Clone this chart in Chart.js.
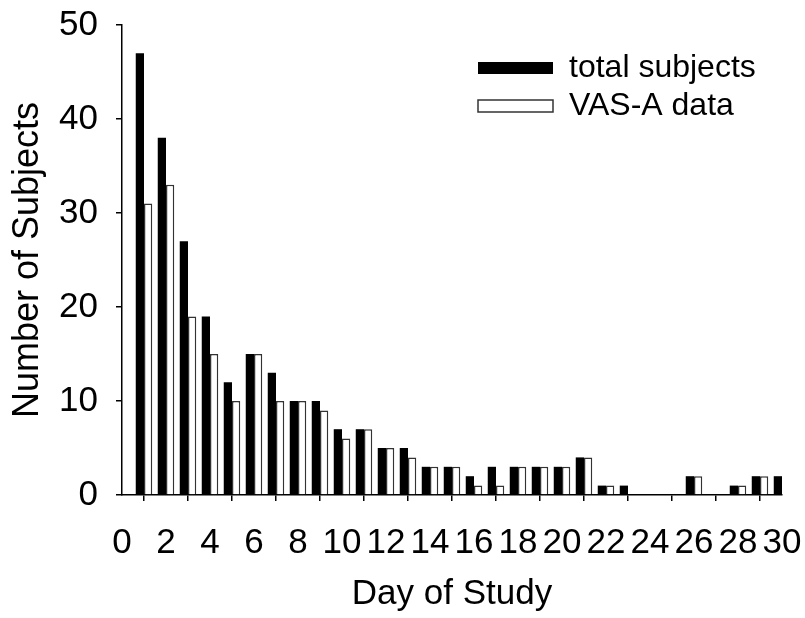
<!DOCTYPE html>
<html lang="en">
<head>
  <meta charset="UTF-8" />
  <title>Number of Subjects by Day of Study</title>
  <script src="https://cdn.jsdelivr.net/npm/chart.js"></script>
  <style>
    html, body { margin: 0; padding: 0; background: #fff; }
    #wrap { width: 805px; height: 618px; }
  </style>
</head>
<body>
  <div id="wrap">
    <canvas id="dayChart" width="805" height="618"></canvas>
  </div>

  <script>
    // day of study (x) and counts per day
    const days = [1, 2, 3, 4, 5, 6, 7, 8, 9, 10, 11, 12, 13, 14, 15, 16, 17, 18, 19, 20, 21, 22, 23, 24, 25, 26, 27, 28, 29, 30];
    const totalSubjects = [47, 38, 27, 19, 12, 15, 13, 10, 10, 7, 7, 5, 5, 3, 3, 2, 3, 3, 3, 3, 4, 1, 1, 0, 0, 2, 0, 1, 2, 2];
    const vasAData = [31, 33, 19, 15, 10, 15, 10, 10, 9, 6, 7, 5, 4, 3, 3, 1, 1, 3, 3, 3, 4, 1, 0, 0, 0, 2, 0, 1, 2, 0];
    const seriesNames = ['total subjects', 'VAS-A data'];

    const fontFamily = "'Liberation Sans', Arial, Helvetica, sans-serif";

    // put the legend inside the plot, top right
    const legendSpot = {
      id: 'legendSpot',
      afterLayout(chart) {
        const lg = chart.legend;
        if (!lg) return;
        const w = lg.width;
        lg.left = 472;
        lg.right = lg.left + w;
        lg.top = 46;
        lg.bottom = lg.top + 100;
      }
    };

    const ctx = document.getElementById('dayChart').getContext('2d');
    new Chart(ctx, {
      type: 'bar',
      data: {
        datasets: [
          {
            label: seriesNames[0],
            data: days.map((d, i) => ({ x: d, y: totalSubjects[i] })),
            backgroundColor: '#000',
            borderColor: '#000',
            borderWidth: 0,
            clip: 0
          },
          {
            label: seriesNames[1],
            data: days.map((d, i) => ({ x: d, y: vasAData[i] })),
            backgroundColor: '#fff',
            borderColor: '#333',
            borderWidth: 1.5,
            clip: 0
          }
        ]
      },
      options: {
        responsive: false,
        animation: false,
        devicePixelRatio: 1,
        layout: { padding: { top: 25, right: 23, left: 0, bottom: 0 } },
        datasets: {
          bar: { categoryPercentage: 0.75, barPercentage: 1 }
        },
        scales: {
          x: {
            type: 'linear',
            min: 0,
            max: 30,
            offset: false,
            afterFit: s => { s.height = 123; s.paddingRight = 0; s.paddingLeft = 0; },
            border: { color: '#000', width: 1.5 },
            grid: { drawOnChartArea: false, drawTicks: true, tickLength: 6, color: '#000', lineWidth: 1.5 },
            ticks: {
              stepSize: 2,
              autoSkip: false,
              maxRotation: 0,
              minRotation: 0,
              padding: 21,
              color: '#000',
              font: { family: fontFamily, size: 35 }
            },
            title: {
              display: true,
              text: 'Day of Study',
              color: '#000',
              font: { family: fontFamily, size: 35 },
              padding: { top: 0, bottom: 3 }
            }
          },
          y: {
            min: 0,
            max: 50,
            afterFit: s => { s.width = 122; s.paddingTop = 0; s.paddingBottom = 0; },
            border: { color: '#000', width: 1.5 },
            grid: { drawOnChartArea: false, drawTicks: true, tickLength: 6, color: '#000', lineWidth: 1.5 },
            ticks: {
              stepSize: 10,
              padding: 18,
              color: '#000',
              font: { family: fontFamily, size: 35 }
            },
            title: {
              display: true,
              text: 'Number of Subjects',
              color: '#000',
              font: { family: fontFamily, size: 36 },
              padding: { top: 6, bottom: 0 }
            }
          }
        },
        plugins: {
          tooltip: { enabled: false },
          legend: {
            position: 'chartArea',
            align: 'start',
            labels: {
              boxWidth: 75,
              boxHeight: 12,
              padding: 6,
              color: '#000',
              font: { family: fontFamily, size: 32 }
            }
          }
        }
      },
      plugins: [legendSpot]
    });
  </script>
</body>
</html>
